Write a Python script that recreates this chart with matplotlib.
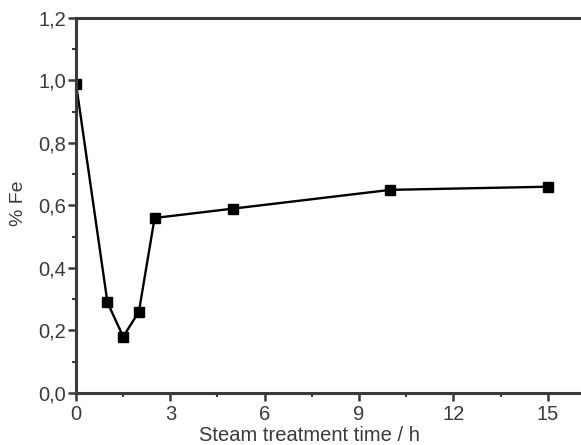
import matplotlib
matplotlib.use("Agg")
import matplotlib.pyplot as plt
from matplotlib.ticker import FuncFormatter, MultipleLocator

time_h = [0, 1, 1.5, 2, 2.5, 5, 10, 15]
fe_pct = [0.99, 0.29, 0.18, 0.26, 0.56, 0.59, 0.65, 0.66]
x_ticks = [0, 3, 6, 9, 12, 15]
y_ticks = [0.0, 0.2, 0.4, 0.6, 0.8, 1.0, 1.2]

plt.rcParams['font.family'] = ['Liberation Sans', 'DejaVu Sans']
fig = plt.figure(figsize=(5.81, 4.45), dpi=100)
ax = fig.add_axes([0.1308, 0.1169, 0.8692, 0.8427])

ax.plot(time_h, fe_pct, color='black', lw=1.7, marker='s', ms=6.5, mfc='black', mec='black')

ax.set_xlim(0, 16.06)
ax.set_ylim(0, 1.2)
ax.set_xticks(x_ticks)
ax.set_yticks(y_ticks)
ax.xaxis.set_minor_locator(MultipleLocator(1.5))
ax.yaxis.set_minor_locator(MultipleLocator(0.1))
ax.yaxis.set_major_formatter(FuncFormatter(lambda v, p: f"{v:.1f}".replace('.', ',')))
ax.xaxis.set_major_formatter(FuncFormatter(lambda v, p: f"{v:.0f}"))

edge = '#3a3a3a'
for s in ['left', 'bottom', 'top']:
    ax.spines[s].set_linewidth(2.2)
    ax.spines[s].set_color(edge)
ax.spines['right'].set_visible(False)

ax.tick_params(which='major', direction='out', length=6, width=1.8, color=edge,
               labelsize=14.5, labelcolor='#3a3a3a')
ax.tick_params(axis='x', which='major', pad=3)
ax.tick_params(axis='y', which='major', pad=1)
ax.tick_params(which='minor', direction='out', length=3, width=1.5, color=edge)

ax.set_xlabel('Steam treatment time / h', fontsize=14.5, color='#3a3a3a')
ax.xaxis.set_label_coords(0.463, -0.089)
ax.set_ylabel('% Fe', fontsize=14, color='#3a3a3a')
ax.yaxis.set_label_coords(-0.097, 0.505)

fig.savefig('out.png', dpi=100)
